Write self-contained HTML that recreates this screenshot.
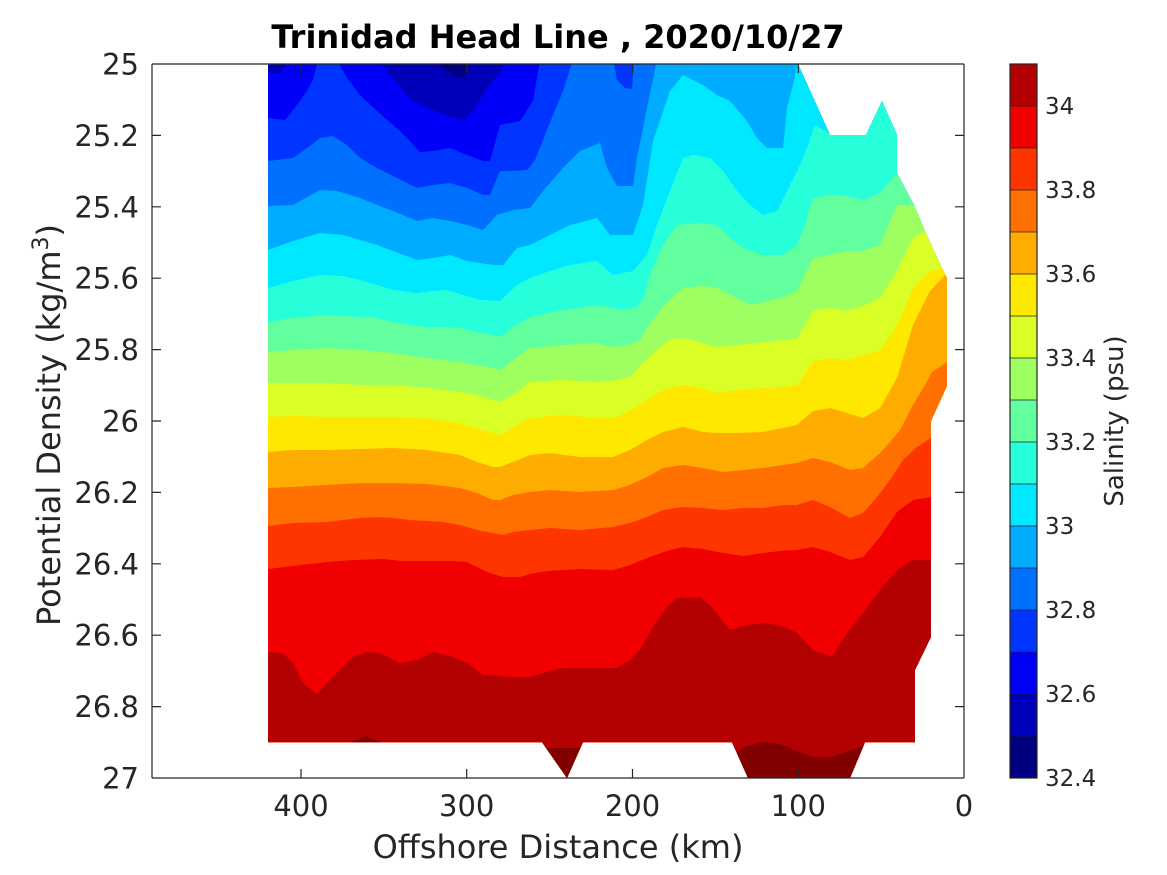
<!DOCTYPE html>
<html>
<head>
<meta charset="utf-8">
<style>
html,body{margin:0;padding:0;background:#fff;}
svg{display:block;}
text{font-family:"DejaVu Sans","Liberation Sans",sans-serif;}
</style>
</head>
<body>
<svg width="1167" height="875" viewBox="0 0 1167 875" xmlns="http://www.w3.org/2000/svg">
<defs>
<clipPath id="dc">
<polygon points="268,64 798,64 830,135 866,135 882,101 897,135 897,173 914,205 925,231 942,268 947,278 947,386 931,421 931,637 915,670 915,742.3 865,742.3 850,778 748,778 732,742.3 583,742.3 567,778 542,742.3 268,742.3"/>
</clipPath>
</defs>
<rect width="1167" height="875" fill="#fff"/>

<g clip-path="url(#dc)">
<rect x="200" y="40" width="800" height="760" fill="#0000f8"/>
<!-- C3 -->
<polygon fill="#0035ff" points="200,118 268,118 285,120 297,105 307,91 313,80 318,60 337,60 347,78 360,95 377,111 400,131 420,152 433,151 450,148 467,155 483,161 490,161 500,125 520,121 533,101 540,60 1000,60 1000,800 200,800"/>
<!-- C4 -->
<polygon fill="#0070ff" points="200,161 268,161 293,158 307,148 320,138 333,136 347,145 360,158 377,168 393,176 417,188 433,185 450,183 467,188 483,195 490,195 500,171 513,171 527,170 535,160 543,140 553,115 563,91 573,60 613,60 617,80 625,88 632,89 634,60 1000,60 1000,800 200,800"/>
<!-- C5 -->
<polygon fill="#00acff" points="200,206 268,206 293,205 320,190 337,191 360,198 377,205 393,211 417,221 433,218 450,221 467,225 483,230 497,215 513,210 530,208 543,191 563,168 580,151 600,143 607,168 617,186 633,186 637,158 647,108 657,60 1000,60 1000,800 200,800"/>
<!-- C6 -->
<polygon fill="#00e8ff" points="200,250 268,250 293,241 320,233 343,235 360,240 377,245 393,251 417,260 433,258 450,255 467,261 493,265 503,265 517,248 530,245 550,235 570,225 597,218 610,235 633,235 643,205 653,141 670,91 683,75 703,85 717,95 730,101 747,121 757,138 767,148 783,148 787,108 793,85 798,60 1000,60 1000,800 200,800"/>
<!-- C7 -->
<polygon fill="#26ffda" points="200,288 268,288 293,281 320,275 343,276 360,280 377,285 393,290 417,293 433,291 447,290 463,295 480,300 500,301 517,285 530,278 550,271 570,265 597,261 613,275 633,271 647,255 657,225 670,191 683,158 693,155 710,158 723,171 737,191 750,205 763,215 777,211 790,185 800,165 808,145 815,125 830,134 836,60 1000,60 1000,800 200,800"/>
<!-- C8 -->
<polygon fill="#61ff9e" points="200,322 268,322 293,318 327,315 360,317 377,318 393,322 410,325 427,327 443,327 460,328 477,332 493,335 500,337 513,327 530,317 563,310 597,305 623,310 637,307 645,295 650,275 663,245 677,225 697,223 717,225 730,238 743,248 763,255 783,255 797,245 805,225 813,198 830,195 847,196 863,200 880,193 897,173 1000,173 1000,800 200,800"/>
<!-- C9 -->
<polygon fill="#9eff61" points="200,352 268,352 293,350 327,348 360,350 393,353 427,358 460,362 477,365 493,368 500,370 513,360 530,348 563,345 597,343 613,347 630,345 640,340 650,323 663,307 670,300 683,288 703,286 717,288 737,298 750,305 765,302 780,298 797,291 813,258 830,255 847,251 863,251 880,245 897,205 914,205 1000,205 1000,800 200,800"/>
<!-- C10 -->
<polygon fill="#daff26" points="200,383 268,383 293,383 327,383 360,385 393,385 427,388 460,392 477,395 493,400 500,402 513,395 530,382 563,380 597,382 617,380 630,377 643,363 657,350 670,340 683,338 703,343 717,347 737,345 763,342 783,340 797,339 813,311 830,308 847,311 863,306 880,298 897,271 913,238 925,231 1000,231 1000,800 200,800"/>
<!-- C11 -->
<polygon fill="#ffe800" points="200,417 268,417 293,416 327,417 360,417 393,417 427,418 460,423 477,428 493,433 500,435 513,427 530,418 563,415 597,418 617,417 630,410 647,400 663,390 683,385 703,388 717,393 737,390 763,388 783,387 797,385 813,361 830,358 847,360 863,355 880,351 897,325 913,288 930,271 942,268 1000,268 1000,800 200,800"/>
<!-- C12 -->
<polygon fill="#ffac00" points="200,452 268,452 293,450 327,450 360,449 393,448 427,450 460,455 477,462 493,467 500,467 513,462 530,455 550,453 580,457 613,457 630,450 647,440 663,432 683,427 703,432 717,433 737,433 763,432 783,428 797,425 813,411 830,408 847,413 863,418 880,408 897,378 913,325 930,291 945,275 1000,275 1000,800 200,800"/>
<!-- C13 -->
<polygon fill="#ff7000" points="200,488 268,488 293,487 327,485 360,483 393,483 427,484 460,488 477,493 493,500 500,500 513,495 530,492 550,490 580,492 613,490 630,485 647,477 663,468 683,465 703,468 723,472 743,470 763,468 783,465 797,463 813,458 830,462 850,470 863,468 880,453 890,442 900,430 913,405 925,385 932,372 947,362 1000,362 1000,800 200,800"/>
<!-- C14 -->
<polygon fill="#ff3500" points="200,526 268,526 293,523 327,522 360,518 377,517 393,518 410,520 443,522 460,525 477,530 493,533 503,535 513,532 530,530 550,528 580,530 613,527 630,523 647,517 663,510 683,507 703,508 723,510 743,508 763,508 783,505 797,505 813,500 830,507 850,518 863,513 877,497 890,480 903,460 917,447 931,438 1000,438 1000,800 200,800"/>
<!-- C15 -->
<polygon fill="#f00000" points="200,569 268,569 293,566 327,562 353,560 383,559 403,561 427,561 450,561 467,562 487,572 503,577 520,577 530,574 547,571 580,569 613,570 630,565 647,558 670,550 683,547 703,549 723,553 743,556 763,553 780,551 797,550 813,547 830,552 850,560 863,557 880,537 897,512 913,500 931,497 1000,497 1000,800 200,800"/>
<!-- C16 -->
<polygon fill="#b30000" points="200,652 268,652 283,653 293,663 303,683 317,694 327,683 340,670 353,657 367,652 380,653 400,663 417,660 433,652 453,657 467,663 483,675 510,677 530,677 547,672 563,668 597,668 617,668 630,660 640,650 653,627 667,607 677,598 700,597 710,605 720,618 730,630 743,626 763,623 783,626 797,633 813,650 832,657 847,633 863,613 880,590 897,570 913,560 931,560 1000,560 1000,800 200,800"/>
<!-- >34.1 patches -->
<polygon fill="#800000" points="545,748 567,780 580,748"/>
<polygon fill="#800000" points="726,762 737,752 747,746 763,742 780,744 797,751 813,757 830,757 847,752 862,746 880,746 880,790 726,790"/>
<polygon fill="#800000" points="350,743 366,736 382,743"/>
<!-- low-salinity patches at top -->
<polygon fill="#0000bb" points="380,60 381,64 393,78 403,91 413,101 427,108 440,113 453,118 465,120 473,111 483,95 493,81 500,73 508,60"/>
<polygon fill="#000080" points="433,60 445,70 455,76 465,78 469,60"/>
<polygon fill="#0000bb" points="266,60 266,73 280,73 290,60"/>
</g>

<!-- axes box -->
<g stroke="#262626" stroke-width="1.2" fill="none">
<line x1="152" y1="64" x2="964" y2="64"/>
<line x1="152" y1="778" x2="964" y2="778"/>
<line x1="152" y1="64" x2="152" y2="778"/>
<line x1="964" y1="64" x2="964" y2="778"/>
<!-- y ticks -->
<path d="M152 135.4h9M152 206.8h9M152 278.2h9M152 349.6h9M152 421h9M152 492.4h9M152 563.8h9M152 635.2h9M152 706.6h9"/>
<path d="M964 135.4h-9M964 206.8h-9M964 278.2h-9M964 349.6h-9M964 421h-9M964 492.4h-9M964 563.8h-9M964 635.2h-9M964 706.6h-9"/>
<!-- x ticks -->
<path d="M301 778v-9M466.7 778v-9M632.5 778v-9M798.3 778v-9"/>
<path d="M301 64v9M466.7 64v9M632.5 64v9M798.3 64v9"/>
</g>

<!-- y tick labels -->
<g font-size="29" fill="#262626" text-anchor="end">
<text x="139" y="74.5">25</text>
<text x="139" y="145.9">25.2</text>
<text x="139" y="217.3">25.4</text>
<text x="139" y="288.7">25.6</text>
<text x="139" y="360.1">25.8</text>
<text x="139" y="431.5">26</text>
<text x="139" y="502.9">26.2</text>
<text x="139" y="574.3">26.4</text>
<text x="139" y="645.7">26.6</text>
<text x="139" y="717.1">26.8</text>
<text x="139" y="788.5">27</text>
</g>
<!-- x tick labels -->
<g font-size="29" fill="#262626" text-anchor="middle">
<text x="301" y="816">400</text>
<text x="466.7" y="816">300</text>
<text x="632.5" y="816">200</text>
<text x="798.3" y="816">100</text>
<text x="964" y="816">0</text>
</g>

<!-- axis labels -->
<text x="558" y="858" font-size="32" fill="#262626" text-anchor="middle">Offshore Distance (km)</text>
<text transform="translate(60,425) rotate(-90)" font-size="32" fill="#262626" text-anchor="middle">Potential Density (kg/m<tspan dy="-12" font-size="22">3</tspan><tspan dy="12">)</tspan></text>

<!-- title -->
<text x="558" y="48" font-size="32" font-weight="bold" fill="#000" text-anchor="middle">Trinidad Head Line , 2020/10/27</text>

<!-- colorbar -->
<g>
<rect x="1010" y="736" width="27" height="42" fill="#000080"/>
<rect x="1010" y="694" width="27" height="42" fill="#0000bb"/>
<rect x="1010" y="652" width="27" height="42" fill="#0000f8"/>
<rect x="1010" y="610" width="27" height="42" fill="#0035ff"/>
<rect x="1010" y="568" width="27" height="42" fill="#0070ff"/>
<rect x="1010" y="526" width="27" height="42" fill="#00acff"/>
<rect x="1010" y="484" width="27" height="42" fill="#00e8ff"/>
<rect x="1010" y="442" width="27" height="42" fill="#26ffda"/>
<rect x="1010" y="400" width="27" height="42" fill="#61ff9e"/>
<rect x="1010" y="358" width="27" height="42" fill="#9eff61"/>
<rect x="1010" y="316" width="27" height="42" fill="#daff26"/>
<rect x="1010" y="274" width="27" height="42" fill="#ffe800"/>
<rect x="1010" y="232" width="27" height="42" fill="#ffac00"/>
<rect x="1010" y="190" width="27" height="42" fill="#ff7000"/>
<rect x="1010" y="148" width="27" height="42" fill="#ff3500"/>
<rect x="1010" y="106" width="27" height="42" fill="#f00000"/>
<rect x="1010" y="64" width="27" height="42" fill="#b30000"/>
<g stroke="#222" stroke-width="1" stroke-opacity="0.75">
<path d="M1010 736h27M1010 694h27M1010 652h27M1010 610h27M1010 568h27M1010 526h27M1010 484h27M1010 442h27M1010 400h27M1010 358h27M1010 316h27M1010 274h27M1010 232h27M1010 190h27M1010 148h27M1010 106h27"/>
</g>
<rect x="1010" y="64" width="27" height="714" fill="none" stroke="#262626" stroke-width="1.2"/>
</g>
<g font-size="23" fill="#262626">
<text x="1045" y="114">34</text>
<text x="1045" y="198">33.8</text>
<text x="1045" y="282">33.6</text>
<text x="1045" y="366">33.4</text>
<text x="1045" y="450">33.2</text>
<text x="1045" y="534">33</text>
<text x="1045" y="618">32.8</text>
<text x="1045" y="702">32.6</text>
<text x="1045" y="786">32.4</text>
</g>
<text transform="translate(1123,421) rotate(-90)" font-size="26" fill="#262626" text-anchor="middle">Salinity (psu)</text>
</svg>
</body>
</html>
